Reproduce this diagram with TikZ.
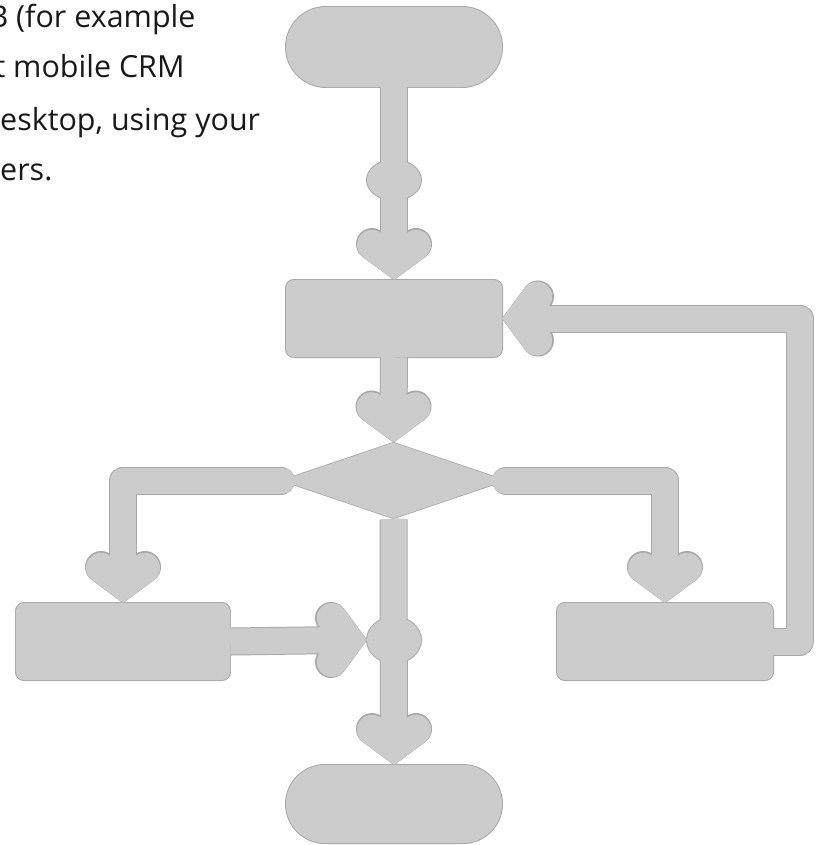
\documentclass[tikz,border=0pt]{standalone}
\usepackage{fontspec}
\setmainfont{Open Sans}
\usetikzlibrary{shapes.geometric,shapes.misc,calc}

\definecolor{boxgray}{HTML}{CCCCCC}
\definecolor{rimgray}{HTML}{A8A8A8}
\newcommand{\notefont}{\fontsize{26pt}{30pt}\selectfont}

\tikzset{
  term/.style={part,rounded rectangle,minimum width=64.8mm,minimum height=24mm,inner sep=0pt},
  proc/.style={part,rectangle,rounded corners=2.4mm,minimum width=64.8mm,minimum height=23.1mm,inner sep=0pt},
  dec/.style={part,diamond,minimum width=66.9mm,minimum height=22.8mm,inner sep=0pt},
  knot/.style={part,ellipse,minimum width=16.2mm,inner sep=0pt},
  note/.style={font=\notefont,anchor=base west,inner sep=0pt,text=black!90},
  pics/head/.style={code={
    \path[part] (0,0) -- (-30.9,-22.9) -- (-22,-35) -- (22,-35) -- (30.9,-22.9) -- cycle;
    \path[part] (-22,-35) circle[radius=15];
    \path[part] (22,-35) circle[radius=15];
  }},
}

% the whole chart, drawn once for the rim and once for the fill
\newcommand{\flowchart}{%
  \node[term] (start) at (394,47) {};
  \node[proc] (enter) at (394,318.5) {};
  \node[dec] (check) at (393.5,480.5) {};
  \node[proc,minimum width=64.2mm] (yes) at (123,641.5) {};
  \node[proc] (no) at (665,641.5) {};
  \node[term,minimum height=23.4mm] (stop) at (394,804) {};
  \node[knot,minimum height=12mm] (knot1) at (394,180) {};
  \node[knot,minimum height=13.8mm] (knot2) at (394,640) {};
  \coordinate (loop) at (800,0);

  \draw[bar] (start.south) -- ($(enter.north)+(0,-25)$);
  \draw[bar] (enter.south) -- ($(check.north)+(0,-25)$);
  \draw[bar,line cap=round] (check.west) -- (yes.north |- check.west) -- ($(yes.north)+(0,-25)$);
  \draw[bar,line cap=round] (check.east) -- (no.north |- check.east) -- ($(no.north)+(0,-25)$);
  \draw[bar] (check.south) -- ($(stop.north)+(0,-25)$);
  \draw[bar] (yes.east) -- ($(knot2.west)+(-25,0)$);
  \draw[bar] (no.east) -- (no.east -| loop) -- (enter.east -| loop) -- ($(enter.east)+(25,0)$);

  \pic at (enter.north) {head};
  \pic at (check.north) {head};
  \pic at (yes.north) {head};
  \pic at (no.north) {head};
  \pic at (stop.north) {head};
  \pic[rotate=90] at (knot2.west) {head};
  \pic[rotate=-90] at (enter.east) {head};
}

\begin{document}
\begin{tikzpicture}[x=0.3mm,y=-0.3mm,line join=round]
  \useasboundingbox (0,0) rectangle (817,845);
  \clip (0,0) rectangle (817,845);

  \node[note] (line1) at (16,27.5) {\llap{B }(for example};
  \node[note] (line2) at (13,77.5) {\llap{t }mobile CRM};
  \node[note] (line3) at (0,130) {esktop, using your};
  \node[note] (line4) at (0,180) {ers.};

  \begin{scope}[part/.style={fill=rimgray,draw=rimgray,line width=1.7pt},
                bar/.style={draw=rimgray,line width=8.4mm}]
    \flowchart
  \end{scope}
  \begin{scope}[part/.style={fill=boxgray},
                bar/.style={draw=boxgray,line width=7.8mm}]
    \flowchart
  \end{scope}
\end{tikzpicture}
\end{document}
